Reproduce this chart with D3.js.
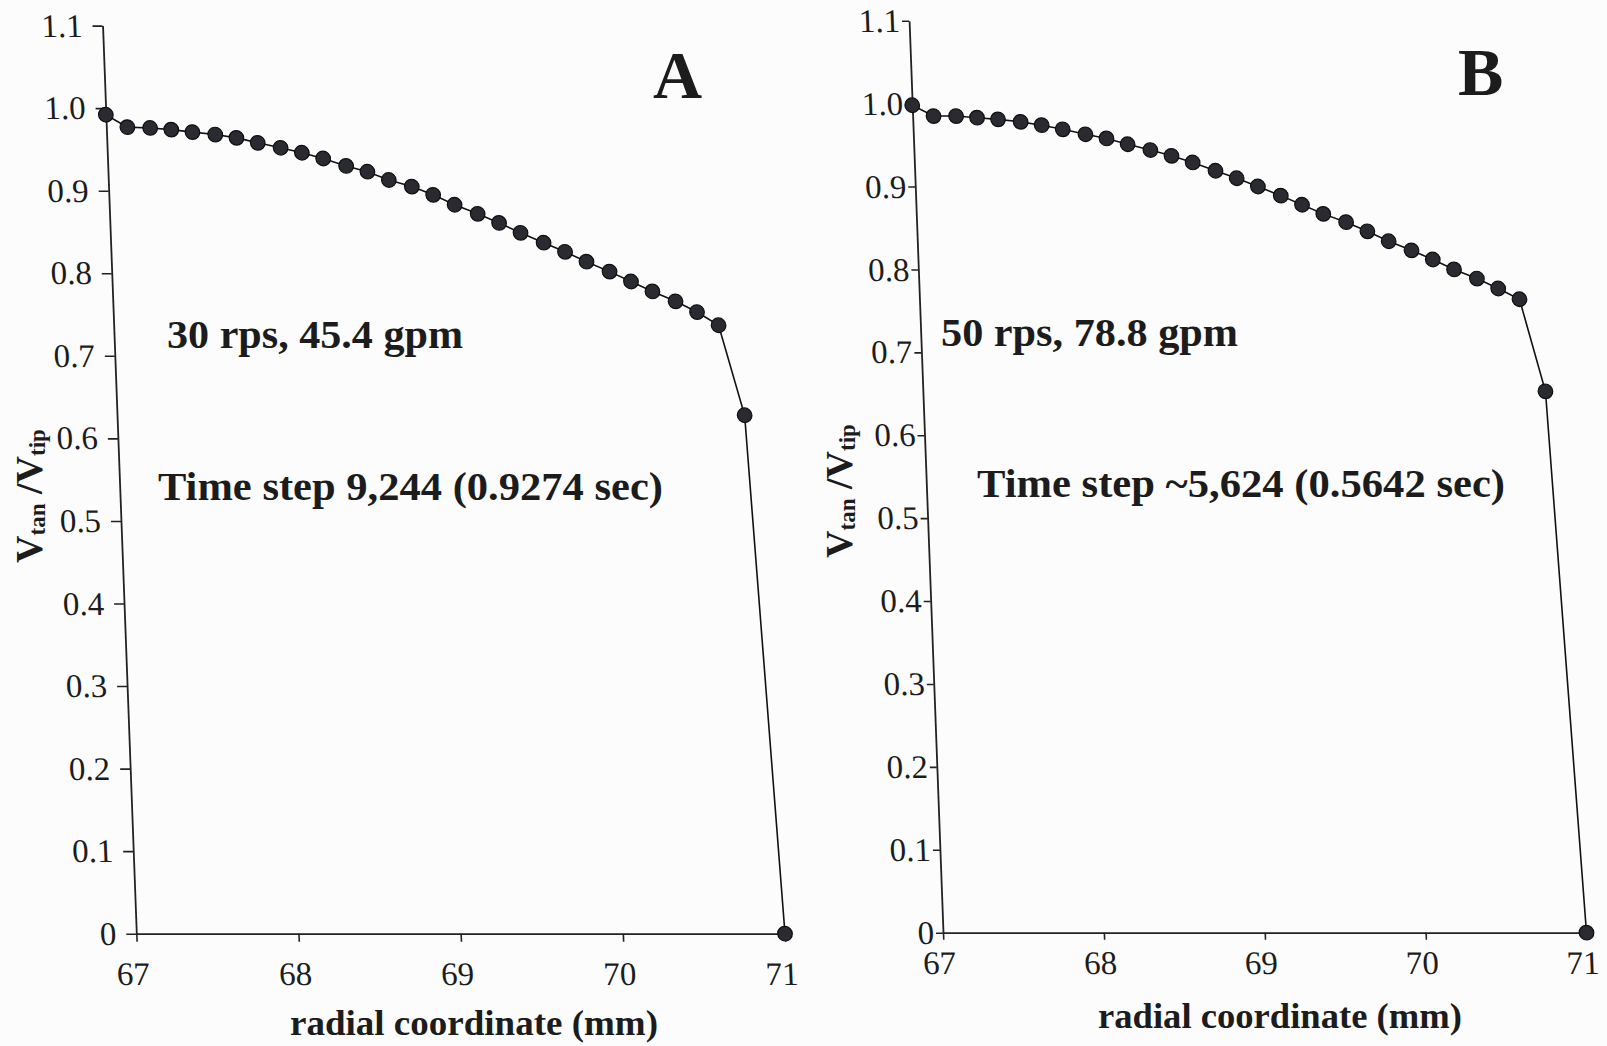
<!DOCTYPE html>
<html>
<head>
<meta charset="utf-8">
<script src="https://cdn.jsdelivr.net/npm/d3@7"></script>
<style>
  html, body { margin: 0; padding: 0; background: #fcfcfc; }
  svg { display: block; }
  text { font-family: "Liberation Serif", "Times New Roman", serif; fill: #1c1c1c; }
</style>
</head>
<body>
<svg id="chart" width="1607" height="1046"></svg>
<script>
// ---------------- data ----------------
const radialMM = [67.00, 67.13, 67.27, 67.40, 67.53, 67.67, 67.80, 67.93, 68.07, 68.20,
                  68.33, 68.47, 68.60, 68.73, 68.87, 69.00, 69.13, 69.27, 69.40, 69.53,
                  69.67, 69.80, 69.93, 70.07, 70.20, 70.33, 70.47, 70.60, 70.73, 70.87, 71.00];

const vRatioA = [0.992, 0.977, 0.976, 0.974, 0.971, 0.968, 0.964, 0.958, 0.952, 0.946,
                 0.939, 0.930, 0.923, 0.913, 0.905, 0.895, 0.883, 0.872, 0.861, 0.849,
                 0.837, 0.826, 0.814, 0.802, 0.790, 0.778, 0.766, 0.753, 0.737, 0.628, 0.0];

const vRatioB = [0.998, 0.985, 0.985, 0.983, 0.981, 0.978, 0.974, 0.969, 0.963, 0.958,
                 0.951, 0.944, 0.937, 0.929, 0.919, 0.910, 0.900, 0.889, 0.878, 0.867,
                 0.857, 0.846, 0.834, 0.823, 0.812, 0.800, 0.789, 0.777, 0.764, 0.653, 0.0];

const xTicks = [67, 68, 69, 70, 71];
const xTickLabels = ["67", "68", "69", "70", "71"];
const yTicks = [0, 0.1, 0.2, 0.3, 0.4, 0.5, 0.6, 0.7, 0.8, 0.9, 1.0, 1.1];
const yTickLabels = ["0", "0.1", "0.2", "0.3", "0.4", "0.5", "0.6", "0.7", "0.8", "0.9", "1.0", "1.1"];

const panelLetters = ["A", "B"];
const conditionLabels = ["30 rps, 45.4 gpm", "50 rps, 78.8 gpm"];
const timeLabels = ["Time step 9,244 (0.9274 sec)", "Time step ~5,624 (0.5642 sec)"];
const xTitle = "radial coordinate (mm)";

// ---------------- layout ----------------
const panels = [
  { values: vRatioA, x0: 136.3, x1: 785, yTop: 25.6, yBase: 933.7,
    yTickSize: 10, yPad: 10, xTickSize: 8, xPad: 20,
    letter: { x: 653, y: 98 },
    cond: { x: 167, y: 348, len: 296 },
    time: { x: 158, y: 500, len: 505 },
    xt: { x: 290, y: 1035, len: 368 },
    yl: { x: 42, y: 496 } },
  { values: vRatioB, x0: 943, x1: 1586.5, yTop: 20.7, yBase: 932.7,
    yTickSize: 7, yPad: 2, xTickSize: 7, xPad: 11,
    letter: { x: 1458, y: 95 },
    cond: { x: 941, y: 346, len: 297 },
    time: { x: 977, y: 497, len: 528 },
    xt: { x: 1098, y: 1028, len: 364 },
    yl: { x: 852, y: 491 } }
];

const svg = d3.select("#chart");
svg.append("rect").attr("width", 1607).attr("height", 1046).attr("fill", "#fcfcfc");

const shearDeg = 2.13;

panels.forEach((p, i) => {
  const x = d3.scaleLinear().domain([67, 71]).range([p.x0, p.x1]);
  const y = d3.scaleLinear().domain([0, 1.1]).range([p.yBase, p.yTop]);

  // sheared plot group (mimics scanned figure's slant)
  const g = svg.append("g")
    .attr("transform", `translate(0,${p.yBase}) skewX(${shearDeg}) translate(0,${-p.yBase})`);

  // y axis
  const yAxis = d3.axisLeft(y)
    .tickValues(yTicks)
    .tickFormat((d, k) => yTickLabels[k])
    .tickSize(p.yTickSize).tickSizeOuter(0).tickPadding(p.yPad);
  const ya = g.append("g").attr("transform", `translate(${p.x0},0)`).call(yAxis);

  // x axis
  const xAxis = d3.axisBottom(x)
    .tickValues(xTicks)
    .tickFormat((d, k) => xTickLabels[k])
    .tickSize(p.xTickSize).tickSizeOuter(0).tickPadding(p.xPad);
  const xa = g.append("g").attr("transform", `translate(0,${p.yBase})`).call(xAxis);
  xa.selectAll(".tick text").attr("dx", -5);

  [ya, xa].forEach(a => {
    a.attr("font-family", null).attr("font-size", null);
    a.select(".domain").attr("stroke", "#222").attr("stroke-width", 1.8);
    a.selectAll(".tick line").attr("stroke", "#222").attr("stroke-width", 1.6);
    a.selectAll(".tick text")
      .style("font-family", '"Liberation Serif", serif')
      .style("font-size", "33px").attr("fill", "#1c1c1c");
  });

  const pts = radialMM.map((r, k) => [r, p.values[k]]);

  g.append("path")
    .datum(pts)
    .attr("fill", "none")
    .attr("stroke", "#111")
    .attr("stroke-width", 1.6)
    .attr("d", d3.line().x(d => x(d[0])).y(d => y(d[1])));

  g.append("g").selectAll("circle")
    .data(pts).join("circle")
    .attr("cx", d => x(d[0])).attr("cy", d => y(d[1]))
    .attr("r", 7.3)
    .attr("fill", "#2a2a31")
    .attr("stroke", "#0e0e12").attr("stroke-width", 1.2);

  // panel letter
  svg.append("text").attr("x", p.letter.x).attr("y", p.letter.y)
    .attr("font-size", 68).attr("font-weight", "bold").attr("fill", "#111")
    .text(panelLetters[i]);

  // annotations
  svg.append("text").attr("x", p.cond.x).attr("y", p.cond.y)
    .attr("font-size", 39).attr("font-weight", "bold")
    .attr("textLength", p.cond.len).attr("lengthAdjust", "spacingAndGlyphs")
    .text(conditionLabels[i]);
  svg.append("text").attr("x", p.time.x).attr("y", p.time.y)
    .attr("font-size", 39).attr("font-weight", "bold")
    .attr("textLength", p.time.len).attr("lengthAdjust", "spacingAndGlyphs")
    .text(timeLabels[i]);

  // x title
  svg.append("text").attr("x", p.xt.x).attr("y", p.xt.y)
    .attr("font-size", 35).attr("font-weight", "bold")
    .attr("textLength", p.xt.len).attr("lengthAdjust", "spacingAndGlyphs")
    .text(xTitle);

  // y title  V_tan /V_tip
  const yt = svg.append("text")
    .attr("transform", `translate(${p.yl.x},${p.yl.y}) rotate(-90)`)
    .attr("text-anchor", "middle").attr("font-weight", "bold");
  yt.append("tspan").attr("font-size", 38).text("V");
  yt.append("tspan").attr("font-size", 23).attr("dy", 3).text("tan");
  yt.append("tspan").attr("font-size", 38).attr("dy", -3).text("\u00A0/V");
  yt.append("tspan").attr("font-size", 23).attr("dy", 3).text("tip");
});
</script>
</body>
</html>
